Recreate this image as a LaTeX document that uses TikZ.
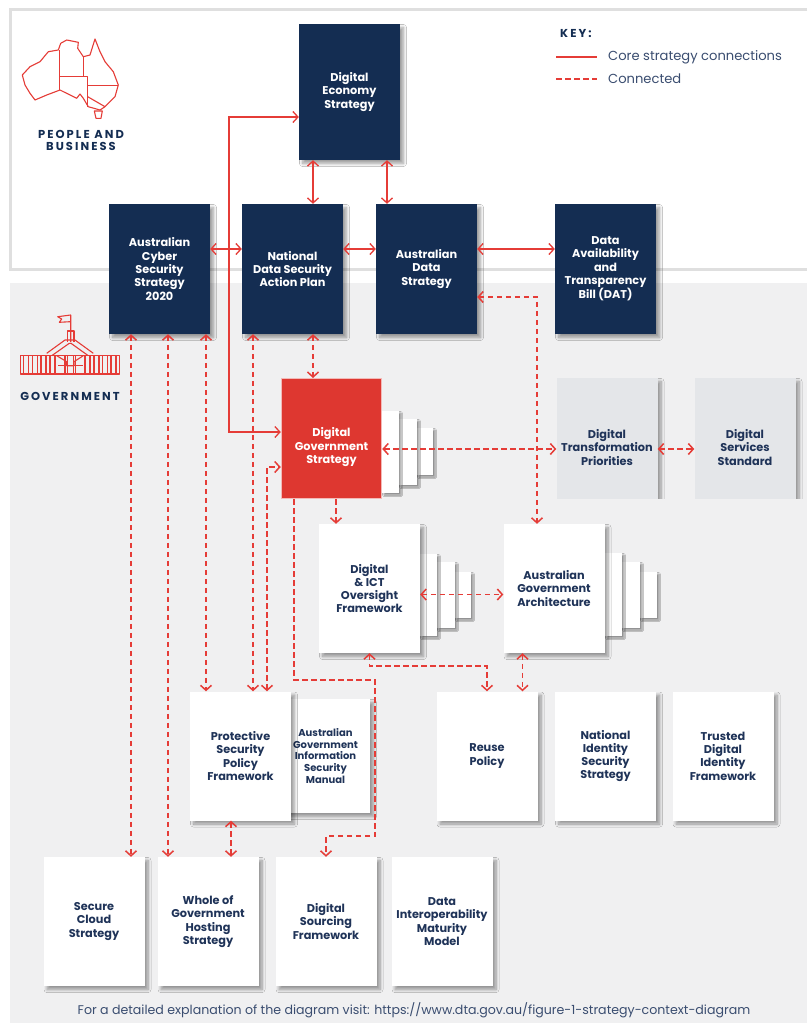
\documentclass[tikz,border=0pt]{standalone}
\usepackage{fontspec}
\setmainfont{Poppins}
\newfontfamily\headfont[LetterSpace=18]{Poppins}
\usetikzlibrary{arrows.meta,shadows.blur}
\definecolor{navy}{HTML}{142D52}
\definecolor{inkblue}{HTML}{1F3358}
\definecolor{keyblue}{HTML}{3A4D70}
\definecolor{stratred}{HTML}{DE3730}
\definecolor{linkred}{HTML}{E53C37}
\definecolor{panelgrey}{HTML}{F0F0F1}
\definecolor{edgegrey}{HTML}{DFDFDF}
\definecolor{softgrey}{HTML}{E4E6E9}
\tikzset{
    >={Straight Barb[length=5pt,width=11pt]},
    basebox/.style={inner sep=0pt,minimum width=101pt,align=center,font=\fontsize{11.3}{13.3}\selectfont\bfseries},
    stratbox/.style={basebox,blur shadow={shadow xshift=3.5pt,shadow yshift=-3.5pt,shadow blur steps=8,shadow blur radius=3pt,shadow opacity=38}},
    navybox/.style={stratbox,fill=navy,text=white,minimum height=130pt},
    whitebox/.style={stratbox,fill=white,text=inkblue,minimum height=129pt},
    greybox/.style={stratbox,fill=softgrey,text=inkblue,minimum height=121pt},
    redbox/.style={basebox,fill=stratred,draw=stratred!35,line width=1pt,text=white,minimum height=120pt,minimum width=100.5pt},
    pagecard/.style={fill=white,blur shadow={shadow xshift=2pt,shadow yshift=-2pt,shadow blur steps=6,shadow blur radius=1.5pt,shadow opacity=40}},
    core/.style={draw=linkred,line width=1.3pt},
    linked/.style={draw=linkred,line width=1.5pt,dash pattern=on 5.5pt off 3.5pt},
    iconline/.style={draw=linkred,line width=1.1pt,line join=round},
    headtext/.style={inner sep=0pt,text=navy,align=center,font=\fontsize{11.5}{12.5}\selectfont\headfont\bfseries},
    keytext/.style={inner sep=0pt,anchor=west,text=keyblue,font=\fontsize{13.1}{15}\selectfont}
}
\begin{document}
\begin{tikzpicture}[x=1pt,y=-1pt]
                \useasboundingbox (0,0) rectangle (807,1023);
                \fill[white] (0,0) rectangle (807,1023);
                \fill[panelgrey] (10,283) rectangle (807,1023);
                \draw[edgegrey,line width=3pt] (807,9) -- (10,9) -- (10,269) -- (807,269);

                \draw[iconline] (22.3,75) -- (30,66.7) -- (40,61.7) -- (48.3,51.7) -- (58.3,50) -- (60.7,43.3) -- (66.7,40) -- (78.3,42.3) -- (77.7,48.3) -- (83.3,56.7) -- (90,55) -- (95,39) -- (100,51.7) -- (105,61.7) -- (113.3,71.7) -- (118.3,85) -- (115,96.7) -- (105,106.7) -- (100,110) -- (88.3,106.7) -- (83.3,98.3) -- (80,94) -- (76.7,98.3) -- (60,90) -- (46.7,95) -- (35,100) -- (30,93.3) -- (25,85) -- cycle;
                \draw[iconline] (94.3,111) -- (102.3,111) -- (101,118.3) -- (96,118.3) -- cycle;
                \draw[iconline] (59.3,50) -- (59.3,90);
                \draw[iconline] (59.3,76.7) -- (87.7,76.7) -- (87.7,106.7);
                \draw[iconline] (83.3,56.7) -- (83.3,76.7);
                \draw[iconline] (87.7,85.7) -- (118.3,85.7);
                \draw[iconline] (87.7,96.7) -- (105,106.7);
                \node[headtext] (people) at (81,140.5) {PEOPLE AND\\BUSINESS};

                \draw[iconline] (70.7,342) -- (70.7,315) -- (57.7,316.7) -- (61.7,319) -- (59.3,322.3) -- (70,321.7);
                \draw[iconline] (67.3,341.7) -- (67.3,331) -- (74,331) -- (74,341.7);
                \draw[iconline] (46.7,353.3) -- (65,340) -- (75,340) -- (93.3,353.3);
                \draw[iconline] (51.7,355.7) -- (69.3,343.3) -- (71,343.3) -- (88.3,355.7);
                \draw[iconline] (20.7,355.7) rectangle (119.3,374);
                \draw[iconline] (56.7,355.7) -- (66.7,361.7) -- (66.7,365.7) -- (74,365.7) -- (74,361.7) -- (83.3,355.7);
                \draw[iconline] (58.3,365.7) -- (83.3,365.7);
                \foreach \barx in {23.3,28.3,32.7,37.3,41,46,50,55,65,67.3,73.3,75.7,85,90,94,99,102.7,107.3,111,116}
                    \draw[iconline] (\barx,355.7) -- (\barx,374);
                \node[headtext] (government) at (70,396) {GOVERNMENT};

                \node[headtext,anchor=west] (keyhead) at (560,34) {KEY:};
                \coordinate (coreA) at (556,57);
                \coordinate (coreB) at (597,57);
                \coordinate (linkA) at (556,79);
                \coordinate (linkB) at (597,79);
                \draw[core] (coreA) -- (coreB);
                \draw[linked] (linkA) -- (linkB);
                \node[keytext] (keycore) at (608,57) {Core strategy connections};
                \node[keytext] (keylink) at (608,79) {Connected};

                \fill[pagecard] (433,428) rectangle (417,475);
                \fill[pagecard] (417,419) rectangle (399,485);
                \fill[pagecard] (399,411) rectangle (382,493);
                \fill[pagecard] (471,572) rectangle (455,618);
                \fill[pagecard] (455,562) rectangle (437,628);
                \fill[pagecard] (437,554) rectangle (420,636);
                \fill[pagecard] (657,572) rectangle (640,618);
                \fill[pagecard] (640,562) rectangle (622,628);
                \fill[pagecard] (622,553) rectangle (605,636);

                \node[navybox,minimum height=136pt] (economy) at (349.5,92) {Digital\\Economy\\Strategy};
                \node[navybox] (cyber) at (159.5,269) {Australian\\Cyber\\Security\\Strategy\\2020};
                \node[navybox] (ndsap) at (292.5,269) {National\\Data Security\\Action Plan};
                \node[navybox] (adata) at (426.5,269) {Australian\\Data\\Strategy};
                \node[navybox] (dat) at (605.5,269) {Data\\Availability\\and\\Transparency\\Bill (DAT)};
                \node[redbox] (dgs) at (331.5,438.5) {\strut\\[4pt]Digital\\Government\\Strategy};
                \node[greybox] (dtp) at (607,438.5) {\strut\\[4pt]Digital\\Transformation\\Priorities};
                \node[greybox] (dss) at (745,438.5) {\strut\\[4pt]Digital\\Services\\Standard};
                \fill[panelgrey] (548,499) rectangle (807,509);
                \node[whitebox] (oversight) at (369.5,588.5) {Digital\\\&~ICT\\Oversight\\Framework};
                \node[whitebox] (aga) at (554,588.5) {Australian\\Government\\Architecture};
                \node[whitebox,minimum width=89pt,minimum height=114pt,font=\fontsize{10}{11.7}\selectfont\bfseries] (ism) at (325.5,756) {Australian\\Government\\Information\\Security\\Manual};
                \node[whitebox] (pspf) at (240.5,756) {Protective\\Security\\Policy\\Framework};
                \node[whitebox] (reuse) at (487,756) {Reuse\\Policy};
                \node[whitebox] (niss) at (605.5,756) {National\\Identity\\Security\\Strategy};
                \node[whitebox] (tdif) at (723,756) {Trusted\\Digital\\Identity\\Framework};
                \node[whitebox] (secure) at (94,921.5) {Secure\\Cloud\\Strategy};
                \node[whitebox] (whole) at (208,921.5) {Whole of\\Government\\Hosting\\Strategy};
                \node[whitebox] (sourcing) at (326,921.5) {Digital\\Sourcing\\Framework};
                \node[whitebox] (interop) at (442,921.5) {Data\\Interoperability\\Maturity\\Model};

                \coordinate (turnEconomy) at (229,117);
                \coordinate (turnSourcingA) at (375,680);
                \coordinate (turnSourcingB) at (326,836);
                \coordinate (turnReuse) at (487,666);

                \draw[core,<->] ([xshift=-36.5pt]economy.south) -- ([xshift=20.5pt]ndsap.north);
                \draw[core,<->] ([xshift=37.5pt]economy.south) -- ([xshift=-39.5pt]adata.north);
                \draw[core,<->] ([yshift=20pt]cyber.east) -- ([yshift=20pt]ndsap.west);
                \draw[core,<->] ([yshift=20pt]ndsap.east) -- ([yshift=20pt]adata.west);
                \draw[core,<->] ([yshift=20pt]adata.east) -- ([yshift=20pt]dat.west);
                \draw[core,<->] ([yshift=6.5pt]dgs.west) -| (turnEconomy) -- ([yshift=-25pt]economy.west);

                \draw[linked,<->] ([xshift=-28.5pt]cyber.south) -- ([xshift=37pt]secure.north);
                \draw[linked,<->] ([xshift=8.5pt]cyber.south) -- ([xshift=-40pt]whole.north);
                \draw[linked,<->] ([xshift=46.5pt]cyber.south) -- ([xshift=-34.5pt]pspf.north);
                \draw[linked,<->] ([xshift=-39.5pt]ndsap.south) -- ([xshift=12.5pt]pspf.north);
                \draw[linked,<->] ([xshift=26.5pt]pspf.north) |- ([yshift=-28.5pt]dgs.west);
                \draw[linked,<->] ([xshift=20.5pt]ndsap.south) -- ([xshift=-18.5pt]dgs.north);
                \draw[linked,->] ([xshift=4.5pt]dgs.south) -- ([xshift=-33.5pt]oversight.north);
                \draw[linked,->] ([xshift=-37.5pt]dgs.south) |- (turnSourcingA) |- (turnSourcingB) -- (sourcing.north);
                \draw[linked,<->] ([yshift=-28pt]adata.east) -| ([xshift=-17pt]aga.north);
                \draw[linked,<->] ([yshift=-10.5pt]dgs.east) -- ([yshift=-10.5pt]dtp.west);
                \draw[linked,<->] ([yshift=-10.5pt]dtp.east) -- ([yshift=-10.5pt]dss.west);
                \draw[linked,<->] ([yshift=-6pt]oversight.east) -- ([yshift=-6pt]aga.west);
                \draw[linked,<->] (oversight.south) |- (turnReuse) -- (reuse.north);
                \draw[linked,<->] ([xshift=-31.5pt]aga.south) -- ([xshift=35.5pt]reuse.north);
                \draw[linked,<->] ([xshift=-9.5pt]pspf.south) -- ([xshift=23pt]whole.north);

                \node[inner sep=0pt,text=keyblue,font=\fontsize{12.6}{14}\selectfont] (footer) at (414,1010) {For a detailed explanation of the diagram visit: https://www.dta.gov.au/figure-1-strategy-context-diagram};
\end{tikzpicture}
\end{document}
